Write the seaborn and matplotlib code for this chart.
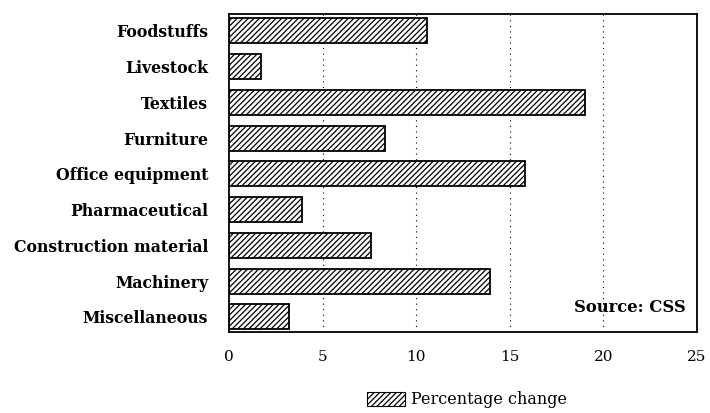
import matplotlib
matplotlib.use("Agg")
import matplotlib.pyplot as plt
import matplotlib.patches as mpatches
import pandas as pd
import seaborn as sns

categories = ["Foodstuffs", "Livestock", "Textiles", "Furniture", "Office equipment",
              "Pharmaceutical", "Construction material", "Machinery", "Miscellaneous"]
pct_change = [10.6, 1.7, 19.0, 8.35, 15.8, 3.9, 7.6, 13.95, 3.2]
xticks = [0, 5, 10, 15, 20, 25]

df = pd.DataFrame({"category": categories, "pct": pct_change})

sns.set_style("white")
plt.rcParams["font.family"] = ["DejaVu Serif"]
plt.rcParams["hatch.linewidth"] = 0.9
plt.rcParams["text.color"] = "black"
plt.rcParams["xtick.color"] = "black"
plt.rcParams["ytick.color"] = "black"

fig = plt.figure(figsize=(7.1, 4.13), dpi=100)
ax = fig.add_axes([229 / 710, 1 - 332 / 413, (697 - 229) / 710, (332 - 14) / 413])

sns.barplot(data=df, x="pct", y="category", orient="h", color="white",
            edgecolor="black", linewidth=1.3, width=0.7, hatch="//////", ax=ax)

ax.set_xlim(0, 25)
ax.set_ylim(8.42, -0.47)
ax.set_xticks(xticks)
ax.set_xticklabels([str(t) for t in xticks], fontsize=11)
ax.tick_params(axis="x", direction="in", length=5, width=1, pad=13)
ax.tick_params(axis="y", length=0, pad=15, labelsize=11.3)
for lbl in ax.get_yticklabels():
    lbl.set_fontweight("bold")
ax.set_xlabel("")
ax.set_ylabel("")

for x in xticks[1:-1]:
    ax.axvline(x, color="black", linestyle=(0, (1, 4)), linewidth=0.8, zorder=0)

for s in ax.spines.values():
    s.set_color("black")
    s.set_linewidth(1.3)

ax.text(0.977, 0.05, "Source: CSS", transform=ax.transAxes, ha="right", va="bottom",
        fontsize=11.8, fontweight="bold")

handle = mpatches.Patch(facecolor="white", edgecolor="black", hatch="//////",
                        linewidth=0.8, label="Percentage change")
fig.legend(handles=[handle], loc="center", bbox_to_anchor=(467 / 710, 1 - 400 / 413),
           frameon=False, fontsize=11.5, handlelength=2.4, handleheight=1.0,
           handletextpad=0.4)

fig.savefig("out.png", dpi=100)
plt.close(fig)
